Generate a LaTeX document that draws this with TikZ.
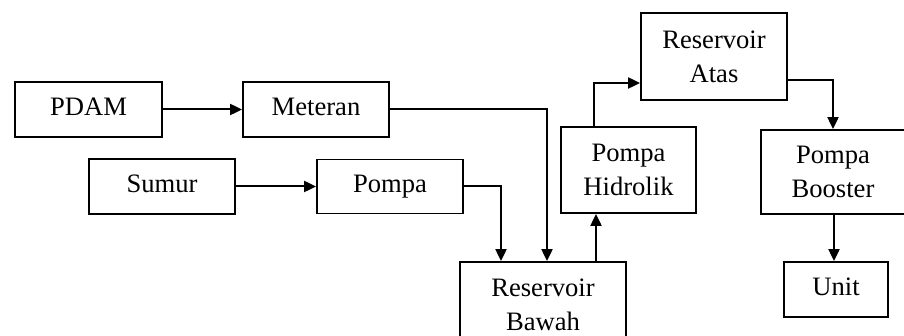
\documentclass[tikz,border=0pt]{standalone}
\usepackage{fontspec}
\setmainfont{Liberation Serif}
\usetikzlibrary{arrows.meta,calc}
\begin{document}
\begin{tikzpicture}[x=0.5pt,y=-0.5pt,
  box/.style={draw,line width=0.9pt,inner sep=0pt,align=center,
    font=\fontsize{13.3}{17}\selectfont},
  conn/.style={line width=1pt,-{Triangle[length=6pt,width=5.5pt]}},
  plain/.style={line width=1pt}]
\useasboundingbox (0,0) rectangle (904,336);
\clip (0,0) rectangle (904,336);
\node[box,minimum width=73.5pt,minimum height=27.5pt] (pdam) at (88.5,109.5) {PDAM\vphantom{g}};
\node[box,minimum width=73pt,minimum height=27.5pt] (meteran) at (316,109.5) {Meteran\vphantom{g}};
\node[box,minimum width=73pt,minimum height=27.5pt] (sumur) at (162,186.5) {Sumur\vphantom{g}};
\node[box,minimum width=73pt,minimum height=27pt] (pompa) at (390,186.5) {Pompa};
\node[box,minimum width=73pt,minimum height=43.5pt] (ra) at (714,56.5) {Reservoir\\Atas};
\node[box,minimum width=67.5pt,minimum height=43pt] (ph) at (628.5,170) {Pompa\\Hidrolik};
\node[box,minimum width=72pt,minimum height=42pt] (pb) at (833,172) {Pompa\\Booster};
\node[box,minimum width=52pt,minimum height=27.5pt] (unit) at (836,289.5) {Unit\vphantom{g}};
\node[box,minimum width=83pt,minimum height=43pt] (rb) at (543,305) {Reservoir\\Bawah};
\coordinate (m1) at (547,109.5);
\coordinate (p1) at (501,186.5);
\coordinate (h1) at (594,83);
\coordinate (a1) at (833,80);
\draw[conn] (pdam.east) -- (meteran.west);
\draw[conn] (sumur.east) -- (pompa.west);
\draw[conn] (meteran.east) -- (m1) -- (m1 |- rb.north);
\draw[conn] (pompa.east) -- (p1) -- (p1 |- rb.north);
\draw[conn] (rb.north -| 596,0) -- (ph.south -| 596,0);
\draw[conn] (ph.north -| h1) -- (h1) -- (h1 -| ra.west);
\draw[conn] (ra.east |- a1) -- (a1) -- (a1 |- pb.north);
\draw[conn] (pb.south -| 834,0) -- (unit.north -| 834,0);
\end{tikzpicture}
\end{document}
